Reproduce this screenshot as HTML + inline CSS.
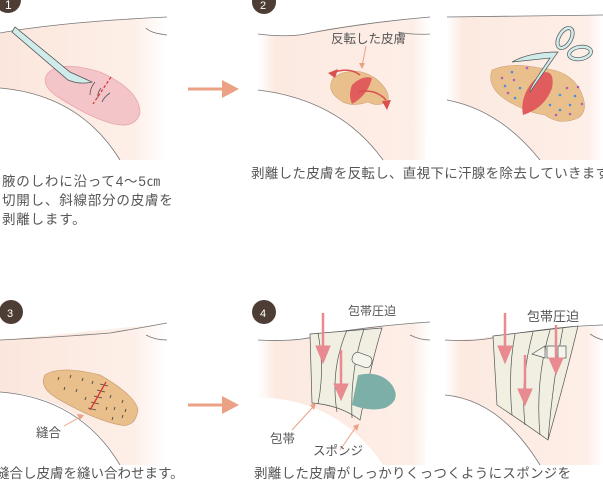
<!DOCTYPE html>
<html><head><meta charset="utf-8"><style>
body{margin:0;background:#fff;width:603px;height:487px;overflow:hidden}
text{font-family:"Liberation Sans","Noto Sans CJK JP",sans-serif;fill:#555}
</style></head><body>
<svg width="603" height="487" viewBox="0 0 603 487" xmlns="http://www.w3.org/2000/svg">
<defs>
<linearGradient id="sk" x1="0" x2="1" y1="0" y2="0">
<stop offset="0" stop-color="#fbe6dc"/><stop offset="0.8" stop-color="#fdefe8"/><stop offset="1" stop-color="#fff"/></linearGradient>
<linearGradient id="sk2" x1="0" x2="1" y1="0" y2="0">
<stop offset="0" stop-color="#fff"/><stop offset="0.1" stop-color="#fceae1"/><stop offset="0.9" stop-color="#fdeee7"/><stop offset="1" stop-color="#fff"/></linearGradient>
</defs>
<!-- Panel 1 -->
<path d="M0,33 Q60,22 167,17 L167,160 L120,160 Q80,95 0,88 Z" fill="url(#sk)"/>
<path d="M0,33 Q60,22 167,17" fill="none" stroke="#777" stroke-width="0.8"/>
<path d="M0,88 Q80,95 120,160" fill="none" stroke="#777" stroke-width="0.8"/>
<path d="M146,28 Q150,33 167,35" fill="none" stroke="#777" stroke-width="0.8"/>
<path d="M48,73 Q60,60 100,72 Q140,90 140,113 Q135,130 110,123 Q85,115 55,95 Q40,83 48,73Z" fill="#f3c4c8" stroke="#e8a6ad" stroke-width="0.8"/>
<path d="M15,27 L12,32 L68,80 Q80,85 92,82 L70,72 Z" fill="#cfeceb" stroke="#555" stroke-width="0.8"/>
<path d="M111,77 L93,104" stroke="#d33" stroke-width="1.2" stroke-dasharray="3,2"/>
<path d="M95,82 Q90,88 90,95 M101,88 Q97,93 98,98 M110,93 Q104,97 102,102" fill="none" stroke="#555" stroke-width="0.8"/>
<circle cx="8" cy="0" r="13" fill="#4e3d35"/>
<text x="5" y="9" font-size="12" style="fill:#fff">1</text>
<path d="M188,89 L224,89" stroke="#eaa184" stroke-width="3"/>
<path d="M222,80 L239,89 L222,98 Z" fill="#eaa184"/>
<text x="2" y="186" font-size="13.5" letter-spacing="0.8">腋のしわに沿って4～5㎝</text>
<text x="2" y="205" font-size="13.5" letter-spacing="0.8">切開し、斜線部分の皮膚を</text>
<text x="2" y="224" font-size="13.5" letter-spacing="0.8">剥離します。</text>
<!-- Panel 2a -->
<path d="M258,34 Q300,38 320,30 Q370,22 430,17 L425,160 L383,160 Q340,100 258,90 Z" fill="url(#sk2)"/>
<path d="M258,34 Q290,38 310,33 Q370,22 430,17" fill="none" stroke="#777" stroke-width="0.8"/>
<path d="M398,32 Q412,35 430,34" fill="none" stroke="#777" stroke-width="0.8"/>
<path d="M258,90 Q340,100 383,160" fill="none" stroke="#777" stroke-width="0.8"/>
<path d="M334,77 Q355,65 375,78 Q390,90 388,100 Q380,108 368,102 Q350,108 340,100 Q325,90 334,77Z" fill="#e9c08c" stroke="#cfa27a" stroke-width="0.6"/>
<path d="M352,85 Q362,75 372,78 Q368,95 352,104 Q348,95 352,85Z" fill="#e15c5c"/>
<path d="M335,72 Q350,67 360,75 M358,92 Q375,88 386,100" fill="none" stroke="#d9504f" stroke-width="1.5"/>
<path d="M328,73 L338,69 L335,78Z M382,101 L391,100 L387,110Z" fill="#d9504f"/>
<path d="M366,46 L362,66" stroke="#eaa184" stroke-width="1"/><path d="M359,63 L362,69 L365,63Z" fill="#eaa184"/>
<text x="331" y="43" font-size="12.5">反転した皮膚</text>
<circle cx="264" cy="2" r="12" fill="#4e3d35"/>
<text x="260" y="9" font-size="11" style="fill:#fff">2</text>
<!-- Panel 2b -->
<path d="M447,17 L603,15 L603,160 L540,160 Q500,110 447,100 Z" fill="url(#sk2)"/>
<path d="M447,17 L603,15" stroke="#777" stroke-width="0.8"/>
<path d="M447,100 Q500,110 540,160" fill="none" stroke="#777" stroke-width="0.8"/>
<path d="M492,70 Q510,62 540,68 Q570,70 580,90 Q590,110 578,118 Q560,126 545,115 Q530,113 515,105 Q485,90 492,70Z" fill="#e9c08c" stroke="#cfa27a" stroke-width="0.6"/>
<path d="M545,72 Q555,72 552,88 Q545,108 523,115 Q520,100 530,85 Q537,76 545,72Z" fill="#e15c5c"/>
<g fill="#4a8ee0"><circle cx="512" cy="72" r="1.3"/><circle cx="505" cy="86" r="1.3"/><circle cx="520" cy="88" r="1.3"/><circle cx="515" cy="98" r="1.3"/><circle cx="560" cy="95" r="1.3"/><circle cx="570" cy="105" r="1.3"/><circle cx="575" cy="96" r="1.3"/><circle cx="560" cy="110" r="1.3"/><circle cx="550" cy="105" r="1.3"/></g>
<g fill="#b060c0"><circle cx="527" cy="68" r="1.3"/><circle cx="502" cy="78" r="1.3"/><circle cx="514" cy="80" r="1.3"/><circle cx="508" cy="93" r="1.3"/><circle cx="567" cy="88" r="1.3"/><circle cx="582" cy="104" r="1.3"/><circle cx="556" cy="115" r="1.3"/><circle cx="570" cy="114" r="1.3"/><circle cx="578" cy="87" r="1.3"/></g>
<path d="M512,62 Q530,52 558,52 L530,92 Q528,90 550,58 Z" fill="#cfeceb" stroke="#555" stroke-width="0.7"/>
<ellipse cx="565" cy="38" rx="6" ry="11" transform="rotate(30 565 38)" fill="none" stroke="#555" stroke-width="4"/>
<ellipse cx="565" cy="38" rx="6" ry="11" transform="rotate(30 565 38)" fill="none" stroke="#cfeceb" stroke-width="2.6"/>
<ellipse cx="580" cy="53" rx="11" ry="6" transform="rotate(-10 580 53)" fill="none" stroke="#555" stroke-width="4"/>
<ellipse cx="580" cy="53" rx="11" ry="6" transform="rotate(-10 580 53)" fill="none" stroke="#cfeceb" stroke-width="2.6"/>
<text x="251" y="178" font-size="13.5" letter-spacing="0.3">剥離した皮膚を反転し、直視下に汗腺を除去していきます</text>
<!-- Panel 3 -->
<path d="M0,340 Q60,335 167,323 L167,465 L120,465 Q80,395 0,392 Z" fill="url(#sk)"/>
<path d="M0,340 Q60,337 110,333 Q140,328 167,323" fill="none" stroke="#777" stroke-width="0.8"/>
<path d="M146,335 Q155,340 167,340" fill="none" stroke="#777" stroke-width="0.8"/>
<path d="M0,392 Q80,398 120,465" fill="none" stroke="#777" stroke-width="0.8"/>
<path d="M45,375 Q60,365 100,375 Q135,395 138,410 Q135,428 120,425 Q95,420 60,400 Q38,388 45,375Z" fill="#e9c08c" stroke="#cfa27a" stroke-width="0.8"/>
<g stroke="#444" stroke-width="0.9">
<path d="M58,380 l1,-3 M70,378 l1,-3 M82,381 l1,-3 M92,384 l1,-3 M64,390 l1,-3 M76,392 l1,-3 M85,400 l1,-3 M110,398 l1,-3 M122,403 l1,-3 M114,410 l1,-3 M125,412 l1,-3 M106,410 l1,-3 M112,420 l1,-3 M122,418 l1,-3"/>
<path d="M100,384 l8,2 M97,390 l8,2 M94,396 l8,2 M91,402 l8,2 M88,408 l8,2"/>
</g>
<path d="M106,382 L90,410" stroke="#d33" stroke-width="1.3"/>
<path d="M64,426 L80,417" stroke="#eaa184" stroke-width="1"/><path d="M77,414 L84,415 L80,420Z" fill="#eaa184"/>
<text x="36" y="437" font-size="12.5">縫合</text>
<circle cx="11" cy="312" r="12" fill="#4e3d35"/>
<text x="7" y="317" font-size="11" style="fill:#fff">3</text>
<path d="M188,405 L224,405" stroke="#eaa184" stroke-width="3"/>
<path d="M222,396 L239,405 L222,414 Z" fill="#eaa184"/>
<text x="-4" y="478" font-size="13.5">縫合し皮膚を縫い合わせます。</text>
<!-- Panel 4a -->
<path d="M258,340 Q300,342 320,335 Q370,326 430,322 L425,465 L383,465 Q340,400 258,397 Z" fill="url(#sk2)"/>
<path d="M258,340 Q300,342 320,335 Q370,326 430,322" fill="none" stroke="#777" stroke-width="0.8"/>
<path d="M410,335 Q420,340 430,340" fill="none" stroke="#777" stroke-width="0.8"/>
<path d="M310,334 L382,328 Q372,360 360,420 Q340,405 312,403 Z" fill="#f0efe2" stroke="#555" stroke-width="0.7"/>
<path d="M318,333 Q325,370 318,404 M347,330 Q330,370 337,412 M364,329 Q350,370 352,418" fill="none" stroke="#555" stroke-width="0.7"/>
<path d="M358,375 Q380,370 392,385 Q402,400 385,408 Q370,412 352,405 Z" fill="#7bafa7"/>
<rect x="352" y="354" width="20" height="12" rx="5" transform="rotate(20 362 360)" fill="#f5f4ea" stroke="#555" stroke-width="0.7"/>
<g fill="#e88a8f" stroke="#e88a8f"><path d="M323,313 L323,350" stroke-width="2.5"/><path d="M316,346 L330,346 L323,363Z"/>
<path d="M341,350 L341,388" stroke-width="2.5"/><path d="M334,384 L348,384 L341,400Z"/></g>
<path d="M292,430 L313,407" stroke="#eaa184" stroke-width="1"/><path d="M310,405 L316,403 L314,410Z" fill="#eaa184"/>
<path d="M340,450 L356,427" stroke="#eaa184" stroke-width="1"/><path d="M353,426 L359,424 L357,431Z" fill="#eaa184"/>
<text x="348" y="315" font-size="12">包帯圧迫</text>
<text x="270" y="443" font-size="12.5">包帯</text>
<text x="313" y="455" font-size="12.5">スポンジ</text>
<circle cx="264" cy="312" r="12" fill="#4e3d35"/>
<text x="260" y="317" font-size="11" style="fill:#fff">4</text>
<!-- Panel 4b -->
<path d="M445,340 Q480,340 500,335 L603,325 L603,465 L540,465 Q500,400 445,395 Z" fill="url(#sk2)"/>
<path d="M445,340 Q480,342 500,336 Q560,326 603,325" fill="none" stroke="#777" stroke-width="0.8"/>
<path d="M590,334 Q596,338 603,340" fill="none" stroke="#777" stroke-width="0.8"/>
<path d="M445,395 Q500,400 540,465" fill="none" stroke="#777" stroke-width="0.8"/>
<path d="M493,336 L578,326 Q565,380 548,440 Q520,420 497,405 Z" fill="#f0efe2" stroke="#555" stroke-width="0.7"/>
<path d="M515,334 Q508,370 512,415 M533,332 Q520,380 525,425 M550,330 Q535,380 540,435 M563,328 Q553,380 548,440" fill="none" stroke="#555" stroke-width="0.7"/>
<path d="M532,354 L545,346 L545,358Z M547,346 L556,346 L556,358 L547,358Z M558,346 L566,346 L566,358 L558,358Z" fill="#f5f4ea" stroke="#555" stroke-width="0.7"/>
<g fill="#e88a8f" stroke="#e88a8f"><path d="M505,313 L505,350" stroke-width="2.5"/><path d="M498,346 L512,346 L505,363Z"/>
<path d="M525,355 L525,393" stroke-width="2.5"/><path d="M518,389 L532,389 L525,405Z"/>
<path d="M556,325 L556,362" stroke-width="2.5"/><path d="M549,358 L563,358 L556,374Z"/></g>
<text x="527" y="321" font-size="13">包帯圧迫</text>
<text x="254" y="478" font-size="13.5" letter-spacing="0.3">剥離した皮膚がしっかりくっつくようにスポンジを</text>
</svg>
</body></html>
